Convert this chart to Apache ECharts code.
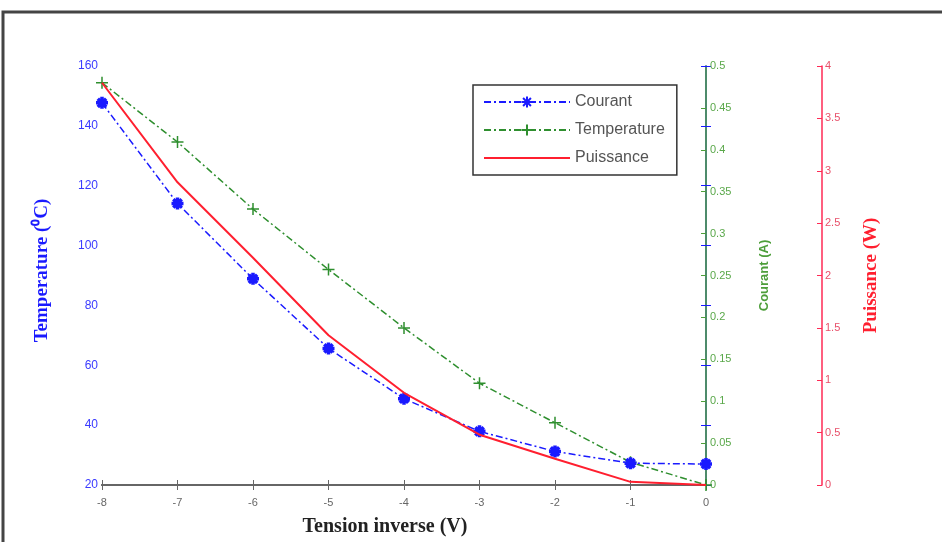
<!DOCTYPE html>
<html>
<head>
<meta charset="utf-8">
<script src="https://cdn.jsdelivr.net/npm/echarts@6/dist/echarts.min.js"></script>
<style>
  html, body { margin: 0; padding: 0; background: #fff; }
  #chart { width: 942px; height: 542px; }
</style>
</head>
<body>
<div id="chart"></div>
<script>
// tension inverse (V)
const tension = [-8, -7, -6, -5, -4, -3, -2, -1, 0]
const courant = [0.456, 0.336, 0.246, 0.163, 0.103, 0.064, 0.040, 0.026, 0.025]
const temperature = [154.4, 134.6, 112.2, 92.0, 72.5, 54.0, 40.8, 27.6, 20]
const puissance = [3.84, 2.89, 2.17, 1.43, 0.88, 0.48, 0.25, 0.03, 0]

const BLUE = '#1a1aff'
const GREEN = '#2f8f2f'
const GREEN_AX = '#4d9e3a'
const RED = '#ff1f2f'
const RED_AX = '#ff2a55'

const pair = (ys) => tension.map((x, i) => [x, ys[i]])

const chart = echarts.init(document.getElementById('chart'))

const option = {
  animation: false,
  backgroundColor: '#fff',
  grid: { left: 102, right: 236, top: 66, bottom: 52 },
  graphic: [
    // cadre de la capture
    { type: 'rect', shape: { x: 3, y: 12, width: 945, height: 540 }, style: { fill: 'none', stroke: '#444', lineWidth: 3 }, silent: true }
  ],
  legend: {
    orient: 'vertical',
    left: 473,
    top: 85,
    padding: [9, 12, 9, 10],
    itemWidth: 86,
    itemHeight: 14,
    itemGap: 12,
    borderColor: '#333',
    borderWidth: 1.5,
    backgroundColor: '#fff',
    textStyle: { fontFamily: 'Liberation Sans', fontSize: 16, color: '#555' },
    data: [
      'Courant',
      'Temperature',
      { name: 'Puissance', itemStyle: { opacity: 0 } }
    ]
  },
  xAxis: [
    {
      type: 'value', min: -8, max: 0, interval: 1,
      name: 'Tension inverse (V)', nameLocation: 'middle', nameGap: 32,
      nameTextStyle: { fontFamily: 'Liberation Serif', fontWeight: 'bold', fontSize: 20, color: '#222', padding: [0, 38, 0, 0] },
      axisLine: { lineStyle: { color: '#666', width: 2 } },
      axisTick: { inside: true, length: 5, lineStyle: { color: '#666' } },
      axisLabel: { margin: 12, fontFamily: 'Liberation Sans', fontSize: 11, color: '#666' },
      splitLine: { show: false }
    },
    {
      type: 'value', position: 'top', min: -8, max: 0, interval: 1,
      axisLine: { lineStyle: { color: '#666', width: 2 } },
      axisTick: { inside: true, length: 5, lineStyle: { color: '#666' } },
      axisLabel: { show: false },
      splitLine: { show: false }
    }
  ],
  yAxis: [
    {
      type: 'value', position: 'left', min: 20, max: 160, interval: 20,
      name: 'Temperature (⁰C)', nameLocation: 'middle', nameGap: 50, nameRotate: 90,
      nameTextStyle: { fontFamily: 'Liberation Serif', fontWeight: 'bold', fontSize: 19, color: BLUE, padding: [0, 0, 0, 10] },
      axisLine: { show: true, lineStyle: { color: BLUE, width: 1.5 } },
      axisTick: { inside: true, length: 5, lineStyle: { color: BLUE } },
      axisLabel: { margin: 4, fontFamily: 'Liberation Sans', fontSize: 12, color: '#3a3aff' },
      splitLine: { show: false }
    },
    {
      type: 'value', position: 'right', min: 0, max: 0.5, interval: 0.05,
      name: 'Courant (A)', nameLocation: 'middle', nameGap: 52, nameRotate: 90,
      nameTextStyle: { fontFamily: 'Liberation Sans', fontWeight: 'bold', fontSize: 13, color: GREEN_AX },
      axisLine: { show: true, lineStyle: { color: GREEN_AX, width: 1.5 } },
      axisTick: { inside: true, length: 5, lineStyle: { color: GREEN_AX } },
      axisLabel: { margin: 4, fontFamily: 'Liberation Sans', fontSize: 11, color: '#5aa84a', formatter: (v) => String(+v.toFixed(2)) },
      splitLine: { show: false }
    },
    {
      type: 'value', position: 'right', offset: 116, min: 0, max: 4, interval: 0.5,
      name: 'Puissance (W)', nameLocation: 'middle', nameGap: 40, nameRotate: 90,
      nameTextStyle: { fontFamily: 'Liberation Serif', fontWeight: 'bold', fontSize: 19, color: RED },
      axisLine: { show: true, lineStyle: { color: RED_AX, width: 1.5 } },
      axisTick: { inside: true, length: 5, lineStyle: { color: RED_AX } },
      axisLabel: { margin: 3, fontFamily: 'Liberation Sans', fontSize: 11, color: '#e8506a' },
      splitLine: { show: false }
    },
    {
      // graduations bleues reportées sur le bord droit du cadre
      type: 'value', position: 'right', min: 20, max: 160, interval: 20,
      axisLine: { show: false },
      axisTick: { inside: true, length: 5, lineStyle: { color: BLUE } },
      axisLabel: { show: false },
      splitLine: { show: false }
    }
  ],
  series: [
    {
      name: 'Courant', type: 'line', yAxisIndex: 1, data: pair(courant),
      symbol: 'path://M5 0L5 10M0 5L10 5M1.5 1.5L8.5 8.5M1.5 8.5L8.5 1.5',
      symbolSize: 12,
      itemStyle: { color: BLUE, borderColor: BLUE, borderWidth: 3.5 },
      lineStyle: { color: BLUE, width: 1.5, type: [7, 3, 2, 3] },
      z: 3
    },
    {
      name: 'Temperature', type: 'line', yAxisIndex: 0, data: pair(temperature),
      symbol: 'path://M5 0L5 10M0 5L10 5',
      symbolSize: 12,
      itemStyle: { color: GREEN, borderColor: GREEN, borderWidth: 1.5 },
      lineStyle: { color: GREEN, width: 1.5, type: [7, 3, 2, 3] },
      z: 2
    },
    {
      name: 'Puissance', type: 'line', yAxisIndex: 2, data: pair(puissance),
      symbol: 'none',
      itemStyle: { color: RED },
      lineStyle: { color: RED, width: 2 },
      z: 4
    }
  ]
}

chart.setOption(option)
</script>
</body>
</html>
